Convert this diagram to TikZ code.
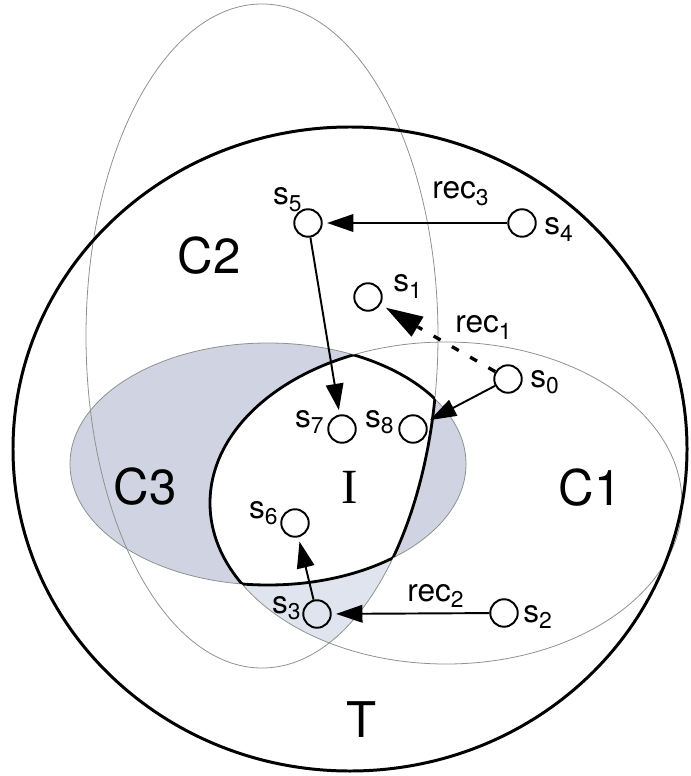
\documentclass[tikz,border=0pt]{standalone}
\usepackage{fontspec}
\setmainfont{TeX Gyre Heros}
\newfontfamily\serifI{Liberation Serif}
\usetikzlibrary{arrows.meta}
\definecolor{ShadeBlue}{RGB}{208,212,226}
\definecolor{ShadeLight}{RGB}{224,228,238}
\definecolor{ThinGray}{RGB}{140,146,140}
\newcommand{\ellCone}{(446,503) ellipse [x radius=236, y radius=161]}
\newcommand{\ellCtwo}{(262,336) ellipse [x radius=176, y radius=332]}
\newcommand{\ellCthree}{(268,464) ellipse [x radius=198, y radius=121]}
\newcommand{\subl}[2]{#1\raisebox{-3.6pt}{\fontsize{13}{13}\selectfont#2}}
\begin{document}
\begin{tikzpicture}[x=0.02cm,y=-0.02cm,
  state/.style={circle,draw,line width=1.1pt,minimum size=0.55cm,inner sep=0pt},
  lab/.style={inner sep=0pt,font=\fontsize{18}{18}\selectfont},
  big/.style={inner sep=0pt,font=\fontsize{28}{28}\selectfont},
  arr/.style={line width=1.1pt,-{Triangle[length=15pt,width=10pt]},shorten >=2.5pt},
  thin/.style={draw=ThinGray,line width=.45pt},
  ibound/.style={line width=1.6pt}]
\useasboundingbox (0,0) rectangle (690,776);
% shaded parts of C3
\begin{scope}\clip \ellCone;\clip \ellCtwo;\fill[ShadeLight] (0,500) rectangle (690,776);\end{scope}
\fill[ShadeBlue] \ellCthree;
\begin{scope}\clip \ellCone;\clip \ellCtwo;\fill[white] \ellCthree;\end{scope}
\draw[thin] \ellCone;\draw[thin] \ellCtwo;\draw[thin] \ellCthree;
% border of I
\begin{scope}\clip \ellCone;\clip \ellCtwo;\draw[ibound] \ellCthree;\end{scope}
\begin{scope}\clip \ellCtwo;\clip \ellCthree;\draw[ibound] \ellCone;\end{scope}
\begin{scope}\clip \ellCone;\clip \ellCthree;\draw[ibound] \ellCtwo;\end{scope}
\draw[line width=1.7pt] (350,449) ellipse [x radius=337, y radius=322];
\node[big] (c1) at (590,488) {C1};\node[big] (c2) at (209,256) {C2};\node[big] (c3) at (145,487) {C3};
\node[big,font=\fontsize{28}{28}\selectfont\serifI] (ii) at (350,487) {I};\node[big] (tt) at (362,720) {T};
% states
\node[state] (s0) at (508,379) {};\node[state] (s1) at (368,297) {};\node[state] (s2) at (504,613) {};
\node[state] (s3) at (317,614) {};\node[state] (s4) at (522,223) {};\node[state] (s5) at (308,223) {};
\node[state] (s6) at (295,523) {};\node[state] (s7) at (342,429) {};\node[state] (s8) at (413,429) {};
\node[lab,anchor=base west] (l0) at (530,387) {\subl{s}{0}};\node[lab,anchor=base west] (l1) at (393,292) {\subl{s}{1}};
\node[lab,anchor=base west] (l2) at (523,622) {\subl{s}{2}};\node[lab,anchor=base east] (l3) at (301,613) {\subl{s}{3}};
\node[lab,anchor=base west] (l4) at (544,235) {\subl{s}{4}};\node[lab,anchor=base east] (l5) at (302,205) {\subl{s}{5}};
\node[lab,anchor=base east] (l6) at (278,518) {\subl{s}{6}};\node[lab,anchor=base east] (l7) at (324,427) {\subl{s}{7}};
\node[lab,anchor=base east] (l8) at (394,427) {\subl{s}{8}};
\node[lab,anchor=base west] (r1) at (455,333) {\subl{rec}{1}};\node[lab,anchor=base west] (r2) at (407,601) {\subl{rec}{2}};
\node[lab,anchor=base west] (r3) at (432,199) {\subl{rec}{3}};
% transitions
\draw[arr] (s4) -- (s5);\draw[arr] (s5) -- (s7);\draw[arr] (s0) -- (s8);
\draw[arr] (s2) -- (s3);\draw[arr] (s3) -- (s6);
\coordinate (d1) at (418,327);
\draw[line width=1.9pt,dash pattern=on 4.5pt off 7.5pt] (s0) -- (d1);
\draw[line width=1.1pt,-{Triangle[length=21pt,width=13pt]},shorten >=3.5pt] (d1) -- (s1);
\end{tikzpicture}
\end{document}
